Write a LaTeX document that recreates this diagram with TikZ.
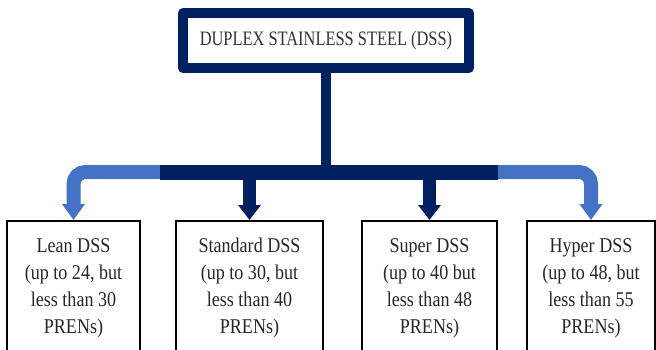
\documentclass[tikz,border=0pt]{standalone}
\usepackage{fontspec}
\setmainfont{Liberation Serif}
\newfontfamily\titlefont[FakeStretch=0.8]{Liberation Serif}
\newfontfamily\boxfont[FakeStretch=0.86]{Liberation Serif}
\usetikzlibrary{positioning,arrows.meta}
\definecolor{dssnavy}{HTML}{002060}
\definecolor{dssblue}{HTML}{4472C4}

\begin{document}
\begin{tikzpicture}[
    x=1pt, y=1pt,
    titlebox/.style={rectangle, draw=dssnavy, line width=10pt, line join=round, fill=white, minimum width=286pt, minimum height=55pt, font=\titlefont\fontsize{20.5}{24}\selectfont, text=black!80},
    catbox/.style={rectangle, draw=black, line width=1.6pt, minimum height=160pt, anchor=north},
    cattext/.style={inner sep=0pt, align=center, font=\boxfont\fontsize{21}{27}\selectfont, text=black!85},
    navyarrow/.style={draw=dssnavy, line width=13pt, -{Triangle[width=22pt,length=15pt]}},
    bluearrow/.style={draw=dssblue, line width=14pt, rounded corners=12pt, -{Triangle[width=22pt,length=16pt]}}
]
    \useasboundingbox (0,0) rectangle (656,349);
    \clip (0,0) rectangle (656,349);

    % top node
    \node[titlebox] (dss) at (326,308.5) {DUPLEX STAINLESS STEEL (DSS)};

    % the four grades
    \node[catbox, minimum width=133pt] (lean) at (73.5,129) {};
    \node[catbox, minimum width=147pt] (std) at (249.5,129) {};
    \node[catbox, minimum width=135pt] (super) at (429.5,129) {};
    \node[catbox, minimum width=128pt] (hyper) at (591,129) {};

    \node[cattext, below=18pt of lean.north] (leantext) {Lean DSS\\(up to 24, but\\less than 30\\PRENs)};
    \node[cattext, below=18pt of std.north] (stdtext) {Standard DSS\\(up to 30, but\\less than 40\\PRENs)};
    \node[cattext, below=18pt of super.north] (supertext) {Super DSS\\(up to 40 but\\less than 48\\PRENs)};
    \node[cattext, below=18pt of hyper.north] (hypertext) {Hyper DSS\\(up to 48, but\\less than 55\\PRENs)};

    % branch bar
    \coordinate (lbar) at (160,177);
    \coordinate (rbar) at (498,177);

    \draw[bluearrow] (lbar) -| (lean.north);
    \draw[bluearrow] (rbar) -| (hyper.north);
    \draw[navyarrow] (std.north |- lbar) -- (std.north);
    \draw[navyarrow] (super.north |- lbar) -- (super.north);
    \draw[dssnavy, line width=15pt] (lbar) -- (rbar);
    \draw[dssnavy, line width=10pt] (dss.south) -- (dss.south |- lbar);
\end{tikzpicture}
\end{document}
